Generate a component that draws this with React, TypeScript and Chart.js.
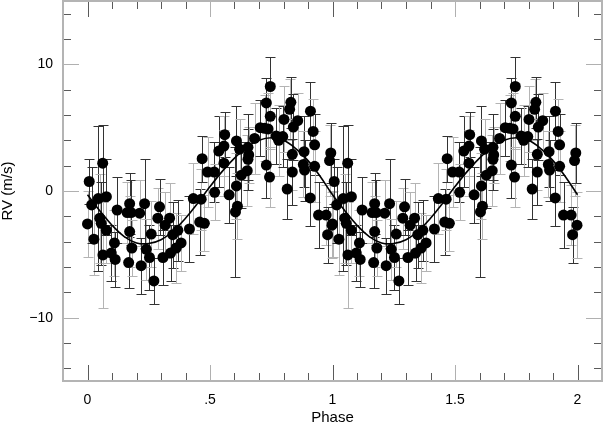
import React, { useEffect, useRef } from "react";
import { Chart, registerables } from "chart.js";

Chart.register(...registerables);

// Phase-folded radial velocity measurements (one cycle, phase 0..1)
const phases = [
  0.0, 0.007, 0.017, 0.026, 0.044, 0.05, 0.056, 0.062, 0.063, 0.077,
  0.077, 0.097, 0.11, 0.113, 0.121, 0.162, 0.168, 0.172, 0.172, 0.178,
  0.181, 0.213, 0.219, 0.233, 0.24, 0.253, 0.26, 0.271, 0.287, 0.294,
  0.308, 0.317, 0.335, 0.339, 0.348, 0.362, 0.369, 0.382, 0.416, 0.432,
  0.458, 0.464, 0.468, 0.477, 0.49, 0.517, 0.519, 0.536, 0.557, 0.56,
  0.557, 0.578, 0.604, 0.608, 0.608, 0.612, 0.621, 0.628, 0.652, 0.655,
  0.658, 0.655, 0.682, 0.705, 0.723, 0.73, 0.737, 0.73, 0.743, 0.746,
  0.746, 0.77, 0.78, 0.797, 0.802, 0.815, 0.825, 0.83, 0.84, 0.836,
  0.836, 0.858, 0.884, 0.881, 0.886, 0.909, 0.91, 0.921, 0.927, 0.927,
  0.943, 0.974, 0.98, 0.988, 0.993, 0.998,
];
const rvValues = [
  -2.6, 0.75, -1.1, -3.8, -0.6, -2.15, -2.55, 2.2, -5.05, -0.45,
  -3.1, -4.9, -4.1, -5.4, -1.5, -1.7, -5.65, -1.0, -3.2, -1.7,
  -4.5, -1.75, -5.9, -1.0, -4.6, -5.25, -3.4, -7.1, -2.15, -1.25,
  -5.25, -2.7, -2.15, -4.9, -3.45, -4.5, -3.1, -4.1, -3.0, -0.6,
  -2.45, -0.65, 2.55, -2.55, 1.5, 1.5, -0.1, 3.15, 3.55, 4.45,
  2.2, -0.3, -1.65, 0.4, 3.95, -1.2, 3.3, 1.25, 1.6, 2.5,
  2.85, 3.45, 4.15, 5.0, 4.95, 6.95, 4.9, 2.05, 1.1, 8.25,
  5.9, 4.35, 4.0, 4.3, 5.65, 0.15, 6.45, 7.0, 5.05, 2.9,
  1.5, 5.55, 3.1, 2.1, 1.65, -0.55, 6.3, 4.7, 3.65, 1.95,
  -1.9, -1.9, -3.45, 2.4, 3.0, -2.7,
];
const rvErrors = [
  2.6, 1.8, 3.0, 2.8, 5.7, 3.5, 3.3, 3.0, 4.2, 3.0,
  2.6, 2.2, 2.6, 2.2, 2.6, 2.4, 2.0, 2.4, 2.8, 2.6,
  2.2, 2.6, 2.2, 3.5, 2.4, 2.6, 2.6, 1.8, 2.4, 2.2,
  2.2, 2.6, 2.8, 2.2, 2.6, 2.8, 2.4, 2.2, 2.6, 2.8,
  2.6, 2.4, 1.8, 2.2, 2.8, 2.4, 2.2, 2.8, 2.4, 1.8,
  2.6, 2.2, 5.1, 2.6, 2.8, 2.6, 2.4, 2.6, 2.8, 2.4,
  2.2, 2.6, 2.8, 2.2, 2.6, 2.0, 2.8, 2.6, 2.4, 2.3,
  2.6, 2.2, 2.8, 2.4, 2.6, 2.4, 2.4, 2.0, 2.6, 2.8,
  2.6, 2.2, 2.8, 2.6, 2.4, 2.2, 2.3, 2.6, 2.4, 2.8,
  2.6, 2.4, 2.2, 2.8, 2.4, 2.6,
];
// 1 = light grey error bar, 0 = dark error bar
const greyBar = [
  1, 0, 0, 1, 0, 1, 0, 0, 1, 0,
  1, 0, 1, 0, 0, 1, 0, 0, 1, 0,
  1, 1, 0, 0, 1, 0, 1, 0, 1, 0,
  0, 1, 1, 0, 0, 1, 0, 1, 0, 1,
  0, 1, 0, 1, 1, 0, 1, 0, 1, 0,
  1, 0, 0, 1, 0, 1, 1, 0, 1, 0,
  1, 0, 1, 0, 1, 0, 1, 0, 1, 0,
  1, 0, 1, 0, 1, 0, 1, 0, 0, 1,
  0, 1, 0, 1, 0, 0, 0, 1, 0, 1,
  0, 1, 0, 1, 0, 1,
];

// Fitted orbit curve (one cycle)
const curvePhase = [
  0.0, 0.05, 0.1, 0.15, 0.2, 0.25, 0.3, 0.35, 0.4, 0.45, 0.5,
  0.55, 0.6, 0.65, 0.7, 0.75, 0.8, 0.85, 0.9, 0.95, 1.0,
];
const curveRV = [
  -0.3, -1.55, -2.7, -3.6, -4.1, -4.15, -3.85, -3.15, -2.15, -0.95, 0.35,
  1.55, 2.6, 3.45, 4.0, 4.2, 4.0, 3.35, 2.4, 1.15, -0.3,
];

const xTickValues = [0, 0.5, 1, 1.5, 2];
const xTickLabels = ["0", ".5", "1", "1.5", "2"];
const yTickValues = [-10, 0, 10];
const yTickLabels = ["\u221210", "0", "10"];
const xMinorTicks = [
  0.1, 0.2, 0.3, 0.4, 0.6, 0.7, 0.8, 0.9, 1.1, 1.2, 1.3, 1.4, 1.6, 1.7, 1.8, 1.9,
];
const yMinorTicks = [-14, -12, -8, -6, -4, -2, 2, 4, 6, 8, 12, 14];
const xMajorGrey = [0.5, 1.5];

const FONT = "'Liberation Sans', Arial, Helvetica, sans-serif";

const zeroPad = (s: any) => {
  s.paddingTop = 0;
  s.paddingBottom = 0;
  s.paddingLeft = 0;
  s.paddingRight = 0;
};

export default function App() {
  const ref = useRef<HTMLCanvasElement | null>(null);

  useEffect(() => {
    if (!ref.current) return;

    const pts: { x: number; y: number; e: number; g: number }[] = [];
    for (let c = 0; c < 2; c++) {
      phases.forEach((p, i) => {
        pts.push({ x: p + c, y: rvValues[i], e: rvErrors[i], g: greyBar[i] });
      });
    }
    const curve: { x: number; y: number }[] = [];
    for (let c = 0; c < 2; c++) {
      curvePhase.forEach((p, i) => {
        if (c === 1 && i === 0) return;
        curve.push({ x: p + c, y: curveRV[i] });
      });
    }

    const errorBars = {
      id: "errorBars",
      beforeDatasetsDraw(chart: any) {
        const ctx = chart.ctx;
        const xs = chart.scales.x;
        const ys = chart.scales.y;
        const area = chart.chartArea;
        ctx.save();
        ctx.beginPath();
        ctx.rect(area.left, area.top, area.right - area.left, area.bottom - area.top);
        ctx.clip();
        ctx.lineWidth = 1;
        pts.forEach((p) => {
          const px = Math.round(xs.getPixelForValue(p.x)) + 0.5;
          const yt = Math.round(ys.getPixelForValue(p.y + p.e)) + 0.5;
          const yb = Math.round(ys.getPixelForValue(p.y - p.e)) + 0.5;
          ctx.strokeStyle = p.g ? "#b4b4b4" : "#333333";
          ctx.beginPath();
          ctx.moveTo(px, yt);
          ctx.lineTo(px, yb);
          ctx.moveTo(px - 5, yt);
          ctx.lineTo(px + 5, yt);
          ctx.moveTo(px - 5, yb);
          ctx.lineTo(px + 5, yb);
          ctx.stroke();
        });
        ctx.restore();
      },
    };

    const frame = {
      id: "frame",
      afterDraw(chart: any) {
        const ctx = chart.ctx;
        const xs = chart.scales.x;
        const ys = chart.scales.y;
        const { left, right, top, bottom } = chart.chartArea;
        ctx.save();
        ctx.lineWidth = 1;
        const tick = (x1: number, y1: number, x2: number, y2: number, col: string) => {
          ctx.strokeStyle = col;
          ctx.beginPath();
          ctx.moveTo(x1, y1);
          ctx.lineTo(x2, y2);
          ctx.stroke();
        };
        const dark = "#5a5a5a";
        const grey = "#b0b0b0";
        xMinorTicks.forEach((v) => {
          const x = Math.round(xs.getPixelForValue(v)) + 0.5;
          tick(x, bottom, x, bottom - 8, dark);
          tick(x, top, x, top + 8, dark);
        });
        xTickValues.forEach((v) => {
          const x = Math.round(xs.getPixelForValue(v)) + 0.5;
          const col = xMajorGrey.includes(v) ? grey : dark;
          tick(x, bottom, x, bottom - 16, col);
          tick(x, top, x, top + 16, col);
        });
        yMinorTicks.forEach((v) => {
          const y = Math.round(ys.getPixelForValue(v)) + 0.5;
          tick(left, y, left + 8, y, dark);
          tick(right, y, right - 8, y, dark);
        });
        yTickValues.forEach((v) => {
          const y = Math.round(ys.getPixelForValue(v)) + 0.5;
          tick(left, y, left + 16, y, grey);
          tick(right, y, right - 16, y, grey);
        });
        ctx.strokeStyle = "#b4b4b4";
        ctx.lineWidth = 2;
        ctx.strokeRect(left, top, right - left, bottom - top);
        ctx.restore();
      },
    };

    const chart = new Chart(ref.current, {
      type: "scatter",
      data: {
        datasets: [
          {
            type: "scatter",
            data: pts.map((p) => ({ x: p.x, y: p.y })),
            pointRadius: 5.5,
            pointHoverRadius: 5.5,
            backgroundColor: "#000000",
            borderWidth: 0,
            order: 1,
          } as any,
          {
            type: "line",
            data: curve,
            borderColor: "#000000",
            borderWidth: 1.6,
            pointRadius: 0,
            tension: 0.4,
            fill: false,
            order: 2,
          } as any,
        ],
      },
      options: {
        responsive: false,
        animation: false,
        events: [],
        layout: { autoPadding: false, padding: { top: 1, right: 1, left: 0, bottom: 0 } },
        plugins: {
          legend: { display: false },
          tooltip: { enabled: false },
        },
        scales: {
          x: {
            type: "linear",
            min: -0.1,
            max: 2.1,
            afterBuildTicks: (s: any) => {
              s.ticks = xTickValues.map((v) => ({ value: v }));
            },
            afterFit: (s: any) => {
              s.height = 44;
              zeroPad(s);
            },
            grid: { display: false, drawTicks: false, tickLength: 0 },
            border: { display: false },
            ticks: {
              autoSkip: false,
              maxRotation: 0,
              padding: 11,
              color: "#000",
              font: { family: FONT, size: 14 },
              callback: (v: any) => {
                const i = xTickValues.indexOf(Number(v));
                return i >= 0 ? xTickLabels[i] : "";
              },
            },
            title: {
              display: true,
              text: "Phase",
              color: "#000",
              font: { family: FONT, size: 15, lineHeight: 1 },
              padding: { top: 0, bottom: 0 },
            },
          },
          y: {
            type: "linear",
            min: -15,
            max: 15,
            afterBuildTicks: (s: any) => {
              s.ticks = yTickValues.map((v) => ({ value: v }));
            },
            afterFit: (s: any) => {
              s.width = 63;
              zeroPad(s);
            },
            grid: { display: false, drawTicks: false, tickLength: 0 },
            border: { display: false },
            ticks: {
              autoSkip: false,
              padding: 10,
              color: "#000",
              font: { family: FONT, size: 14 },
              callback: (v: any) => {
                const i = yTickValues.indexOf(Number(v));
                return i >= 0 ? yTickLabels[i] : "";
              },
            },
            title: {
              display: true,
              text: "RV (m/s)",
              color: "#000",
              font: { family: FONT, size: 15, lineHeight: 1 },
              padding: { top: 0, bottom: 0 },
            },
          },
        },
      },
      plugins: [errorBars, frame],
    } as any);

    return () => chart.destroy();
  }, []);

  return (
    <div style={{ position: "fixed", left: 0, top: 0, width: 603, height: 425, background: "#fff" }}>
      <canvas ref={ref} width={603} height={425} style={{ display: "block", width: 603, height: 425 }} />
    </div>
  );
}
